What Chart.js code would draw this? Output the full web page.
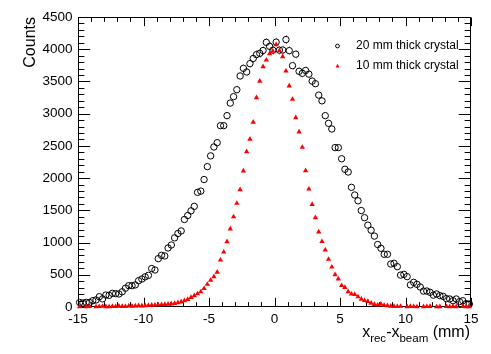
<!DOCTYPE html>
<html><head><meta charset="utf-8">
<script src="https://cdn.jsdelivr.net/npm/chart.js@4.4.0/dist/chart.umd.min.js"></script>
<style>
html,body{margin:0;padding:0;background:#fff;}
#wrap{position:relative;width:491px;height:354px;background:#fff;}
#xtitle{position:absolute;right:21px;top:324px;font-family:"Liberation Sans",Arial,Helvetica,sans-serif;font-size:16px;line-height:16px;white-space:nowrap;color:#000;}
#xtitle sub{font-size:11.5px;vertical-align:-5px;line-height:0;}
</style></head><body>
<div id="wrap"><canvas id="c" width="491" height="354"></canvas>
<div id="xtitle">x<sub>rec</sub>-x<sub>beam</sub> (mm)</div></div>
<script>
// Histogram binning: 120 bins of 0.25 mm from -15 to 15 mm
const binLow = -15;
const binWidth = 0.25;

// 20 mm thick crystal (open circles)
const counts20mm = [
  70, 62, 72, 70, 98, 109, 160, 126, 186, 181,
  212, 207, 202, 236, 292, 331, 331, 343, 408, 434,
  468, 491, 597, 574, 750, 802, 792, 916, 962, 1073,
  1140, 1180, 1358, 1420, 1492, 1562, 1779, 1798, 1978, 2178,
  2345, 2483, 2550, 2814, 2814, 2969, 3164, 3264, 3372, 3585,
  3704, 3647, 3776, 3856, 3916, 3936, 3980, 4107, 4045, 3985,
  4110, 3985, 3988, 4150, 3978, 3745, 3923, 3657, 3626, 3670,
  3613, 3505, 3465, 3288, 3199, 2969, 2850, 2762, 2473, 2473,
  2300, 2137, 2095, 1857, 1738, 1648, 1497, 1386, 1270, 1192,
  1100, 970, 911, 818, 818, 667, 678, 626, 495, 507,
  471, 343, 383, 352, 310, 246, 248, 228, 184, 202,
  176, 165, 130, 124, 98, 124, 83, 98, 52, 47
];

// 10 mm thick crystal (red triangles); null = empty bin (not drawn)
const counts10mm = [
  4, null, 6, 10, null, 4, 8, 12, 6, 4,
  10, 8, 14, 10, 8, 16, 12, 18, 20, 16,
  22, 25, 28, 30, 34, 36, 40, 44, 47, 57,
  67, 78, 98, 119, 150, 176, 205, 236, 287, 352,
  414, 471, 540, 729, 853, 1014, 1213, 1400, 1609, 1820,
  2112, 2411, 2605, 2868, 3249, 3505, 3730, 3833, 3932, 3970,
  4070, 3978, 3885, 3662, 3430, 3223, 2938, 2716, 2478, 2116,
  1831, 1593, 1387, 1166, 1016, 885, 740, 621, 502, 435,
  333, 305, 238, 202, 194, 158, 122, 100, 86, 60,
  41, 31, 45, 26, 20, 14, 10, 8, 12, null,
  6, 10, 8, 4, null, 6, 8, 10, null, 4,
  6, null, 8, 4, 10, 6, null, 8, 6, 4
];

const seriesNames = ['20 mm thick crystal', '10 mm thick crystal'];

const xTickValues = [-15, -10, -5, 0, 5, 10, 15];
const xTickLabels = ['-15', '-10', '-5', '0', '5', '10', '15'];
const yTickValues = [0, 500, 1000, 1500, 2000, 2500, 3000, 3500, 4000, 4500];
const yTickLabels = ['0', '500', '1000', '1500', '2000', '2500', '3000', '3500', '4000', '4500'];

const binCenters = counts20mm.map((_, i) => binLow + binWidth * (i + 0.5));
const pts20 = counts20mm.map((v, i) => ({x: binCenters[i], y: v}));
const pts10 = counts10mm.map((v, i) => ({x: binCenters[i], y: v}));

const FONT = '"Liberation Sans", Arial, Helvetica, sans-serif';

// vertical sqrt(N) error bars for the open circles (drawn outside the marker)
const errorBars = {
  id: 'errorBars',
  beforeDatasetsDraw(chart) {
    const ctx = chart.ctx, xs = chart.scales.x, ys = chart.scales.y;
    const r = 3.7;
    ctx.save();
    ctx.strokeStyle = '#000';
    ctx.lineWidth = 1;
    pts20.forEach(p => {
      if (p.y == null) return;
      const e = Math.sqrt(p.y);
      const px = Math.round(xs.getPixelForValue(p.x)) + 0.5;
      const py = ys.getPixelForValue(p.y);
      const yt = ys.getPixelForValue(p.y + e);
      const yb = ys.getPixelForValue(Math.max(0, p.y - e));
      ctx.beginPath();
      if (py - yt > r) { ctx.moveTo(px, yt); ctx.lineTo(px, py - r); }
      if (yb - py > r) { ctx.moveTo(px, py + r); ctx.lineTo(px, yb); }
      ctx.stroke();
    });
    ctx.restore();
  }
};

// ROOT-like frame with inward ticks on all four sides
const frameTicks = {
  id: 'frameTicks',
  beforeDatasetsDraw(chart) {
    const ctx = chart.ctx, a = chart.chartArea, xs = chart.scales.x, ys = chart.scales.y;
    const L = Math.round(a.left) + 0.5, R = Math.round(a.right) - 0.5;
    const T = Math.round(a.top) + 0.5, B = Math.round(a.bottom) - 0.5;
    ctx.save();
    ctx.strokeStyle = '#000';
    ctx.lineWidth = 1;
    ctx.beginPath();
    ctx.rect(L, T, R - L, B - T);
    const h = B - T, w = R - L;
    const xMaj = 0.03 * h, xMin = xMaj / 2;
    const yMaj = 0.03 * w, yMin = yMaj / 2;
    for (let k = 0; k < xTickValues.length; k++) {
      const v = xTickValues[k];
      const px = Math.round(xs.getPixelForValue(v)) + 0.5;
      ctx.moveTo(px, B); ctx.lineTo(px, B - xMaj);
      ctx.moveTo(px, T); ctx.lineTo(px, T + xMaj);
      if (k < xTickValues.length - 1) {
        const step = (xTickValues[k + 1] - v) / 5;
        for (let j = 1; j < 5; j++) {
          const qx = Math.round(xs.getPixelForValue(v + j * step)) + 0.5;
          ctx.moveTo(qx, B); ctx.lineTo(qx, B - xMin);
          ctx.moveTo(qx, T); ctx.lineTo(qx, T + xMin);
        }
      }
    }
    for (let k = 0; k < yTickValues.length; k++) {
      const v = yTickValues[k];
      const py = Math.round(ys.getPixelForValue(v)) + 0.5;
      ctx.moveTo(L, py); ctx.lineTo(L + yMaj, py);
      ctx.moveTo(R, py); ctx.lineTo(R - yMaj, py);
      if (k < yTickValues.length - 1) {
        const step = (yTickValues[k + 1] - v) / 5;
        for (let j = 1; j < 5; j++) {
          const qy = Math.round(ys.getPixelForValue(v + j * step)) + 0.5;
          ctx.moveTo(L, qy); ctx.lineTo(L + yMin, qy);
          ctx.moveTo(R, qy); ctx.lineTo(R - yMin, qy);
        }
      }
    }
    ctx.stroke();
    ctx.restore();
  }
};

// ROOT-like legend inside the frame (top right)
const rootLegend = {
  id: 'rootLegend',
  afterDatasetsDraw(chart) {
    const ctx = chart.ctx;
    const mx = 337.5, tx = 356;
    const y1 = 46, y2 = 66;
    ctx.save();
    ctx.strokeStyle = '#000';
    ctx.lineWidth = 1;
    ctx.beginPath();
    ctx.arc(mx, y1, 1.9, 0, Math.PI * 2);
    ctx.stroke();
    ctx.fillStyle = '#ff0000';
    ctx.beginPath();
    ctx.moveTo(mx, y2 - 2.2);
    ctx.lineTo(mx + 2, y2 + 1.6);
    ctx.lineTo(mx - 2, y2 + 1.6);
    ctx.closePath();
    ctx.fill();
    ctx.fillStyle = '#000';
    ctx.font = '12px ' + FONT;
    ctx.textAlign = 'left';
    ctx.textBaseline = 'middle';
    ctx.fillText(seriesNames[0], tx, y1);
    ctx.fillText(seriesNames[1], tx, y2);
    ctx.restore();
  }
};

new Chart(document.getElementById('c'), {
  type: 'scatter',
  data: {
    datasets: [
      {
        label: seriesNames[1], data: pts10, order: 0, clip: false,
        pointStyle: 'triangle', pointRadius: 3.1, pointHoverRadius: 3.1,
        backgroundColor: '#ff0000', borderColor: '#ff0000', borderWidth: 0
      },
      {
        label: seriesNames[0], data: pts20, order: 1, clip: false,
        pointStyle: 'circle', pointRadius: 3.2, pointHoverRadius: 3.2,
        backgroundColor: 'rgba(0,0,0,0)', borderColor: '#000', borderWidth: 1
      }
    ]
  },
  options: {
    responsive: false,
    animation: false,
    devicePixelRatio: 1,
    events: [],
    layout: {padding: {left: 0, top: 17, right: 20, bottom: 0}},
    plugins: {legend: {display: false}, tooltip: {enabled: false}},
    scales: {
      x: {
        type: 'linear', min: -15, max: 15,
        afterFit(s) { s.height = 47; },
        afterBuildTicks(s) { s.ticks = xTickValues.map(v => ({value: v})); },
        ticks: {
          callback: (v, i) => xTickLabels[i],
          font: {family: FONT, size: 13.5}, color: '#000',
          padding: 4, maxRotation: 0, autoSkip: false
        },
        grid: {display: false, drawTicks: false},
        border: {display: false}
      },
      y: {
        type: 'linear', min: 0, max: 4500,
        afterFit(s) { s.width = 78; },
        afterBuildTicks(s) { s.ticks = yTickValues.map(v => ({value: v})); },
        ticks: {
          callback: (v, i) => yTickLabels[i],
          font: {family: FONT, size: 13.5}, color: '#000',
          padding: 5.5, autoSkip: false
        },
        grid: {display: false, drawTicks: false},
        border: {display: false},
        title: {
          display: true, text: 'Counts', align: 'end', color: '#000',
          font: {family: FONT, size: 16}, padding: {top: 21, bottom: 0}
        }
      }
    }
  },
  plugins: [frameTicks, errorBars, rootLegend]
});
</script>
</body></html>
